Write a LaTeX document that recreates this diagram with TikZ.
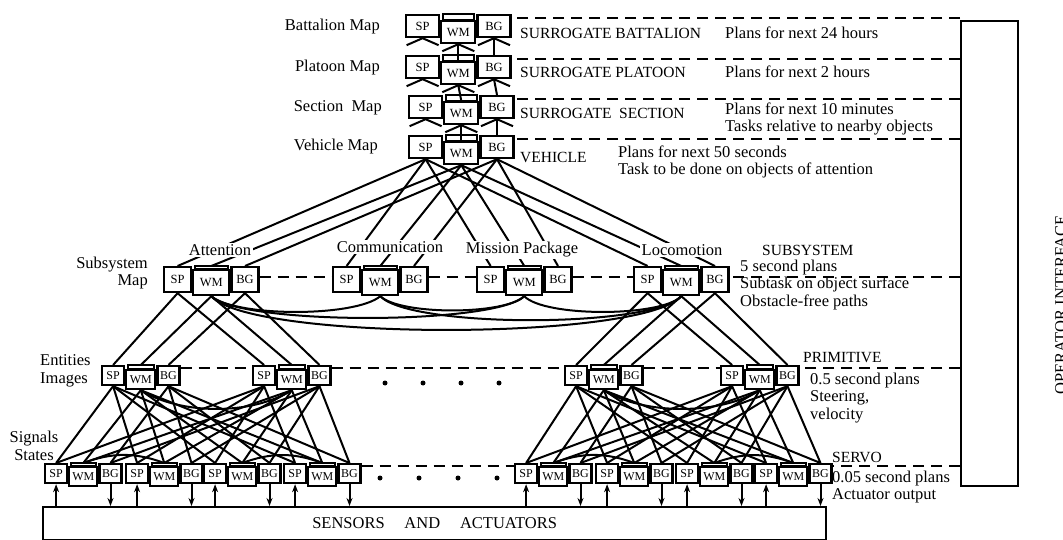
\documentclass[tikz,border=0pt]{standalone}
\usepackage{fontspec}
\setmainfont{Liberation Serif}
\usetikzlibrary{arrows.meta,positioning}

\tikzset{
  rcsbox/.style={draw, line width=2.2pt, fill=white, inner sep=0pt,
    minimum width=33pt, minimum height=22pt, font=\fontsize{12.5}{12.5}\selectfont},
  topbox/.style={rcsbox},
  subbox/.style={rcsbox, minimum width=27pt, minimum height=25pt},
  lowbox/.style={rcsbox, minimum width=22pt, minimum height=19pt, font=\fontsize{12}{12}\selectfont},
  link/.style={line width=2pt},
  dashrow/.style={line width=2.2pt, dash pattern=on 11pt off 7pt},
  feed/.style={line width=2pt, -{Stealth[length=8pt,width=6pt]}},
  lbl/.style={font=\fontsize{16.5}{17.5}\selectfont, inner sep=0pt},
  levelname/.style={font=\fontsize{15.5}{17}\selectfont, inner sep=0pt},
  grp/.style={lbl, fill=white, inner sep=1.5pt}
}

% one SP / WM / BG triple, SP placed by its north west corner
\newcommand{\rcs}[5]{%
  \node[#3, anchor=north west] (#1sp) at (#2) {SP};
  \node[#3, minimum width=#4, anchor=north west] (#1wm) at ([yshift=-#5]#1sp.north east) {WM};
  \node[#3, anchor=north west] (#1bg) at (#1sp.north -| #1wm.east) {BG};
  \coordinate (#1ta) at ([xshift=2.5pt]#1wm.north west);
  \coordinate (#1tb) at ([xshift=-2.5pt]#1wm.north east);
  \draw[line width=1.6pt] (#1ta) rectangle (#1tb |- #1sp.north);
  \coordinate (#1wt) at (#1wm.north |- #1sp.north);
}

\begin{document}
\begin{tikzpicture}[x=1pt,y=-1pt]
\useasboundingbox (0,0) rectangle (1063,540);

% Operator interface column
\node[rcsbox, minimum width=57pt, minimum height=465pt, anchor=north west] (opi) at (960,20) {};
\node[lbl, rotate=90, anchor=north] (opitext) at (1055,305) {OPERATOR INTERFACE};

% Upper levels
\rcs{bat}{405,14}{topbox}{34pt}{6pt}
\rcs{plat}{405,55}{topbox}{34pt}{6pt}
\rcs{sec}{408,95}{topbox}{34pt}{6pt}
\rcs{veh}{408,135}{topbox}{34pt}{6pt}

\foreach \hi/\lo in {bat/plat,plat/sec,sec/veh}{
  \draw[link] (\hi wm.south) -- (\lo wm.north);
  \draw[link] (\hi bg.south) -- (\lo bg.north);
  \foreach \bx in {sp,wm,bg}
    \draw[link] ([xshift=-16pt,yshift=-7pt]\hi\bx.south) -- (\hi\bx.south) -- ([xshift=16pt,yshift=-7pt]\hi\bx.south);
}

% Subsystem level
\rcs{att}{163,266}{subbox}{36pt}{3pt}
\rcs{comm}{332,266}{subbox}{36pt}{3pt}
\rcs{mp}{476,266}{subbox}{36pt}{3pt}
\rcs{loco}{633,266}{subbox}{36pt}{3pt}

\foreach \g in {att,comm,mp,loco}{
  \draw[link] (vehsp.south) -- (\g sp.north);
  \draw[link] (vehwm.south) -- (\g wt);
  \draw[link] (vehbg.south) -- (\g bg.north);
}

% WM to WM links
\draw[link] (attwm.south) .. controls +(25,21) and +(-25,21) .. (commwm.south);
\draw[link] (attwm.south) .. controls +(30,29) and +(-30,29) .. (mpwm.south);
\draw[link] (attwm.south) .. controls +(40,45) and +(-40,45) .. (locowm.south);
\draw[link] (commwm.south) .. controls +(20,19) and +(-20,19) .. (mpwm.south);
\draw[link] (commwm.south) .. controls +(30,32) and +(-30,32) .. (locowm.south);
\draw[link] (mpwm.south) .. controls +(20,21) and +(-20,21) .. (locowm.south);

% Primitive level
\rcs{pa}{101,365}{lowbox}{29pt}{4pt}
\rcs{pb}{252,365}{lowbox}{29pt}{4pt}
\rcs{pc}{564,365}{lowbox}{29pt}{4pt}
\rcs{pd}{720,365}{lowbox}{29pt}{4pt}

\foreach \g/\a/\b in {att/pa/pb,loco/pc/pd}
  \foreach \bx/\tp in {sp/sp.north,wm/wt,bg/bg.north}{
    \draw[link] (\g\bx.south) -- (\a\tp);
    \draw[link] (\g\bx.south) -- (\b\tp);
  }

\draw[link] (pawm.south) .. controls +(40,25) and +(-40,25) .. (pbwm.south);
\draw[link] (pcwm.south) .. controls +(40,25) and +(-40,25) .. (pdwm.south);

% Servo level
\rcs{sa}{44,463}{lowbox}{28pt}{3pt}
\rcs{sb}{125,463}{lowbox}{28pt}{3pt}
\rcs{sc}{203,463}{lowbox}{28pt}{3pt}
\rcs{sd}{283,463}{lowbox}{28pt}{3pt}
\rcs{se}{514,463}{lowbox}{28pt}{3pt}
\rcs{sf}{595,463}{lowbox}{28pt}{3pt}
\rcs{sg}{675,463}{lowbox}{28pt}{3pt}
\rcs{sh}{754,463}{lowbox}{28pt}{3pt}

\foreach \p/\ss in {pa/{sa,sb,sc,sd},pb/{sa,sb,sc,sd},pc/{se,sf,sg,sh},pd/{se,sf,sg,sh}}
  \foreach \s in \ss
    \foreach \bx/\tp in {sp/sp.north,wm/wt,bg/bg.north}
      \draw[link] (\p\bx.south) -- (\s\tp);

\foreach \a/\b in {sa/sb,sc/sd,se/sf,sg/sh}
  \draw[link] (\a wt) to[out=20,in=160] (\b wt);

% Sensors and actuators
\node[rcsbox, minimum width=783pt, minimum height=33pt, anchor=north west,
  font=\fontsize{16.5}{17}\selectfont] (sensors) at (42,506)
  {SENSORS\hspace{1.2em}AND\hspace{1.2em}ACTUATORS};

\foreach \s in {sa,sb,sc,sd,se,sf,sg,sh}{
  \draw[feed] (\s sp.south |- sensors.north) -- (\s sp.south);
  \draw[feed] (\s bg.south) -- (\s bg.south |- sensors.north);
}

% Dashed level lines
\foreach \lv in {bat,plat,sec,veh}{
  \coordinate (d) at ([yshift=-4pt]\lv bg.north east);
  \draw[dashrow] (d -| opi.west) -- (d);
}
\draw[dashrow] ([yshift=-11pt]attbg.north east) -- ([yshift=-11pt]commsp.north west);
\draw[dashrow] ([yshift=-11pt]commbg.north east) -- ([yshift=-11pt]mpsp.north west);
\draw[dashrow] ([yshift=-11pt]mpbg.north east) -- ([yshift=-11pt]locosp.north west);
\coordinate (d) at ([yshift=-11pt]locobg.north east);
\draw[dashrow] (d -| opi.west) -- (d);

\draw[dashrow] ([yshift=-3pt]pabg.north east) -- ([yshift=-3pt]pbsp.north west);
\draw[dashrow] ([yshift=-3pt]pbbg.north east) -- ([yshift=-3pt]pcsp.north west);
\draw[dashrow] ([yshift=-3pt]pcbg.north east) -- ([yshift=-3pt]pdsp.north west);
\coordinate (d) at ([yshift=-3pt]pdbg.north east);
\draw[dashrow] (d -| opi.west) -- (d);

\draw[dashrow] ([yshift=-3pt]sdbg.north east) -- ([yshift=-3pt]sesp.north west);
\coordinate (d) at ([yshift=-3pt]shbg.north east);
\draw[dashrow] (d -| opi.west) -- (d);

% Dots for the units left out
\foreach \x in {385,423,461,499} \fill (\x,383) circle (2.5pt);
\foreach \x in {380,419,458,497} \fill (\x,478) circle (2.5pt);

% Map labels
\node[lbl, anchor=east] (lbat) at (380,27) {Battalion Map};
\node[lbl, anchor=east] (lplat) at (380,68) {Platoon Map};
\node[lbl, anchor=east] (lsec) at (382,108) {Section\ \ Map};
\node[lbl, anchor=east] (lveh) at (378,147) {Vehicle Map};
\node[lbl, anchor=east, align=right] (lsub) at (148,273) {Subsystem\\Map};
\node[lbl, anchor=west, align=left] (lent) at (40,371) {Entities\\Images};
\node[lbl, align=center] (lsig) at (34,446) {Signals\\States};

% Subsystem names
\node[grp] (natt) at (220,250) {Attention};
\node[grp] (ncomm) at (390,247) {Communication};
\node[grp] (nmp) at (522,250) {Mission Package};
\node[grp] (nloco) at (682,250) {Locomotion};

% Level names and plans
\node[levelname, anchor=west] (tbat) at (520,33) {SURROGATE BATTALION};
\node[levelname, anchor=west] (tplat) at (520,72) {SURROGATE PLATOON};
\node[levelname, anchor=west] (tsec) at (520,113) {SURROGATE\ \ SECTION};
\node[levelname, anchor=west] (tveh) at (520,157) {VEHICLE};
\node[lbl, anchor=west] (pbat) at (725,33) {Plans for next 24 hours};
\node[lbl, anchor=west] (pplat) at (725,72) {Plans for next 2 hours};
\node[lbl, anchor=west, align=left] (psec) at (725,119) {Plans for next 10 minutes\\Tasks relative to nearby objects};
\node[lbl, anchor=west, align=left] (pveh) at (618,162) {Plans for next 50 seconds\\Task to be done on objects of attention};

\node[levelname, anchor=west] (tsub) at (762,250) {SUBSYSTEM};
\node[lbl, anchor=west, align=left] (psub) at (740,285) {5 second plans\\Subtask on object surface\\Obstacle-free paths};
\node[levelname, anchor=west] (tprim) at (803,358) {PRIMITIVE};
\node[lbl, anchor=west, align=left] (pprim) at (810,398) {0.5 second plans\\Steering,\\velocity};
\node[levelname, anchor=west] (tservo) at (832,457) {SERVO};
\node[lbl, anchor=west, align=left] (pservo) at (832,487) {0.05 second plans\\Actuator output};
\end{tikzpicture}
\end{document}
